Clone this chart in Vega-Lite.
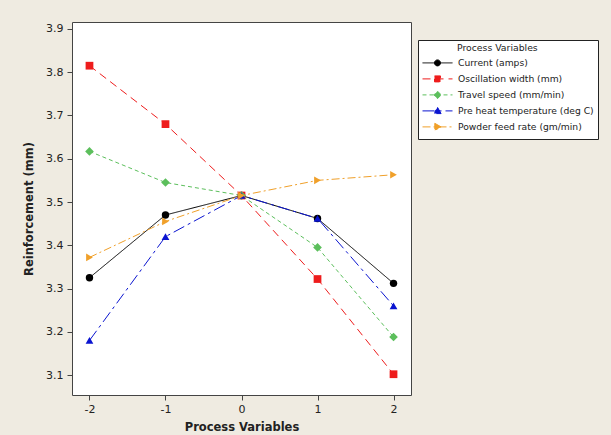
{
  "$schema": "https://vega.github.io/schema/vega-lite/v6.json",
  "width": 339,
  "height": 373,
  "autosize": "none",
  "padding": {"left": 72, "top": 22, "right": 200, "bottom": 40},
  "background": "#efebe1",
  "config": {
    "view": {"fill": "white", "stroke": "#444", "strokeWidth": 1},
    "font": "DejaVu Sans",
    "axis": {"grid": false, "domain": false, "tickColor": "#444", "tickSize": 5, "labelColor": "#222", "labelFontSize": 11, "titleColor": "#222", "titleFontSize": 11.5, "titleFontWeight": "bold", "labelFont": "DejaVu Sans", "titleFont": "DejaVu Sans"}
  },
  "data": {
    "values": [
      {"series": "Current (amps)", "x": -2, "y": 3.325},
      {"series": "Current (amps)", "x": -1, "y": 3.47},
      {"series": "Current (amps)", "x": 0, "y": 3.515},
      {"series": "Current (amps)", "x": 1, "y": 3.462},
      {"series": "Current (amps)", "x": 2, "y": 3.312},
      {"series": "Oscillation width (mm)", "x": -2, "y": 3.815},
      {"series": "Oscillation width (mm)", "x": -1, "y": 3.68},
      {"series": "Oscillation width (mm)", "x": 0, "y": 3.515},
      {"series": "Oscillation width (mm)", "x": 1, "y": 3.322},
      {"series": "Oscillation width (mm)", "x": 2, "y": 3.102},
      {"series": "Travel speed (mm/min)", "x": -2, "y": 3.617},
      {"series": "Travel speed (mm/min)", "x": -1, "y": 3.545},
      {"series": "Travel speed (mm/min)", "x": 0, "y": 3.515},
      {"series": "Travel speed (mm/min)", "x": 1, "y": 3.395},
      {"series": "Travel speed (mm/min)", "x": 2, "y": 3.188},
      {"series": "Pre heat temperature (deg C)", "x": -2, "y": 3.18},
      {"series": "Pre heat temperature (deg C)", "x": -1, "y": 3.42},
      {"series": "Pre heat temperature (deg C)", "x": 0, "y": 3.515},
      {"series": "Pre heat temperature (deg C)", "x": 1, "y": 3.462},
      {"series": "Pre heat temperature (deg C)", "x": 2, "y": 3.26},
      {"series": "Powder feed rate (gm/min)", "x": -2, "y": 3.372},
      {"series": "Powder feed rate (gm/min)", "x": -1, "y": 3.455},
      {"series": "Powder feed rate (gm/min)", "x": 0, "y": 3.515},
      {"series": "Powder feed rate (gm/min)", "x": 1, "y": 3.55},
      {"series": "Powder feed rate (gm/min)", "x": 2, "y": 3.563}
    ]
  },
  "encoding": {
    "x": {"field": "x", "type": "quantitative", "scale": {"domain": [-2.23, 2.23], "nice": false, "zero": false}, "axis": {"values": [-2, -1, 0, 1, 2], "labelExpr": "'' + datum.value", "title": "Process Variables", "labelPadding": 3, "titlePadding": 7}},
    "y": {"field": "y", "type": "quantitative", "scale": {"domain": [3.054, 3.916], "nice": false, "zero": false}, "axis": {"values": [3.1, 3.2, 3.3, 3.4, 3.5, 3.6, 3.7, 3.8, 3.9], "format": ".1f", "title": "Reinforcement (mm)", "labelPadding": 4, "titlePadding": 11}},
    "color": {
      "field": "series", "type": "nominal",
      "scale": {"domain": ["Current (amps)", "Oscillation width (mm)", "Travel speed (mm/min)", "Pre heat temperature (deg C)", "Powder feed rate (gm/min)"], "range": ["#000000", "#ee1c1c", "#5cbf5c", "#0a14d0", "#f0a02a"]},
      "legend": {
        "title": "Process Variables",
        "orient": "none", "legendX": 346, "legendY": 18,
        "fillColor": "white", "strokeColor": "#222", "padding": 4,
        "titleFontSize": 9.3, "titleFontWeight": "normal", "titleColor": "#222", "titlePadding": 2,
        "labelFontSize": 9.2, "labelColor": "#222", "labelOffset": 5,
        "symbolSize": 900, "clipHeight": 15.2, "rowPadding": 0, "symbolStrokeWidth": 1,
        "encode": {
          "title": {"update": {"dx": {"value": 35}}},
          "symbols": {"update": {
            "shape": {"signal": "datum.value=='Current (amps)'?'M-1,0H1M0.2,0A0.2,0.2 0 1,1 -0.2,0A0.2,0.2 0 1,1 0.2,0Z':datum.value=='Oscillation width (mm)'?'M-1,0H1M-0.2,-0.2H0.2V0.2H-0.2Z':datum.value=='Travel speed (mm/min)'?'M-1,0H1M0,-0.25L0.25,0L0,0.25L-0.25,0Z':datum.value=='Pre heat temperature (deg C)'?'M-1,0H1M0,-0.24L0.24,0.18L-0.24,0.18Z':'M-1,0H1M-0.18,-0.24L0.24,0L-0.18,0.24Z'"},
            "fill": {"signal": "scale('color', datum.value)"},
            "stroke": {"signal": "scale('color', datum.value)"},
            "opacity": {"value": 1}
          }}
        }
      }
    }
  },
  "layer": [
    {
      "mark": {"type": "line", "strokeWidth": 1},
      "encoding": {
        "strokeDash": {"field": "series", "type": "nominal", "scale": {"domain": ["Current (amps)", "Oscillation width (mm)", "Travel speed (mm/min)", "Pre heat temperature (deg C)", "Powder feed rate (gm/min)"], "range": [[1, 0], [8, 5], [4, 3], [12, 4, 3, 4], [8, 3, 2, 3]]}, "legend": null}
      }
    },
    {
      "transform": [{"filter": "datum.series == 'Current (amps)'"}],
      "mark": {"type": "point", "shape": "circle", "filled": true, "opacity": 1, "size": 55}
    },
    {
      "transform": [{"filter": "datum.series == 'Oscillation width (mm)'"}],
      "mark": {"type": "point", "shape": "square", "filled": true, "opacity": 1, "size": 60}
    },
    {
      "transform": [{"filter": "datum.series == 'Travel speed (mm/min)'"}],
      "mark": {"type": "point", "shape": "diamond", "filled": true, "opacity": 1, "size": 75}
    },
    {
      "transform": [{"filter": "datum.series == 'Pre heat temperature (deg C)'"}],
      "mark": {"type": "point", "shape": "triangle-up", "filled": true, "opacity": 1, "size": 60}
    },
    {
      "transform": [{"filter": "datum.series == 'Powder feed rate (gm/min)'"}],
      "mark": {"type": "point", "shape": "triangle-right", "filled": true, "opacity": 1, "size": 60}
    }
  ]
}
